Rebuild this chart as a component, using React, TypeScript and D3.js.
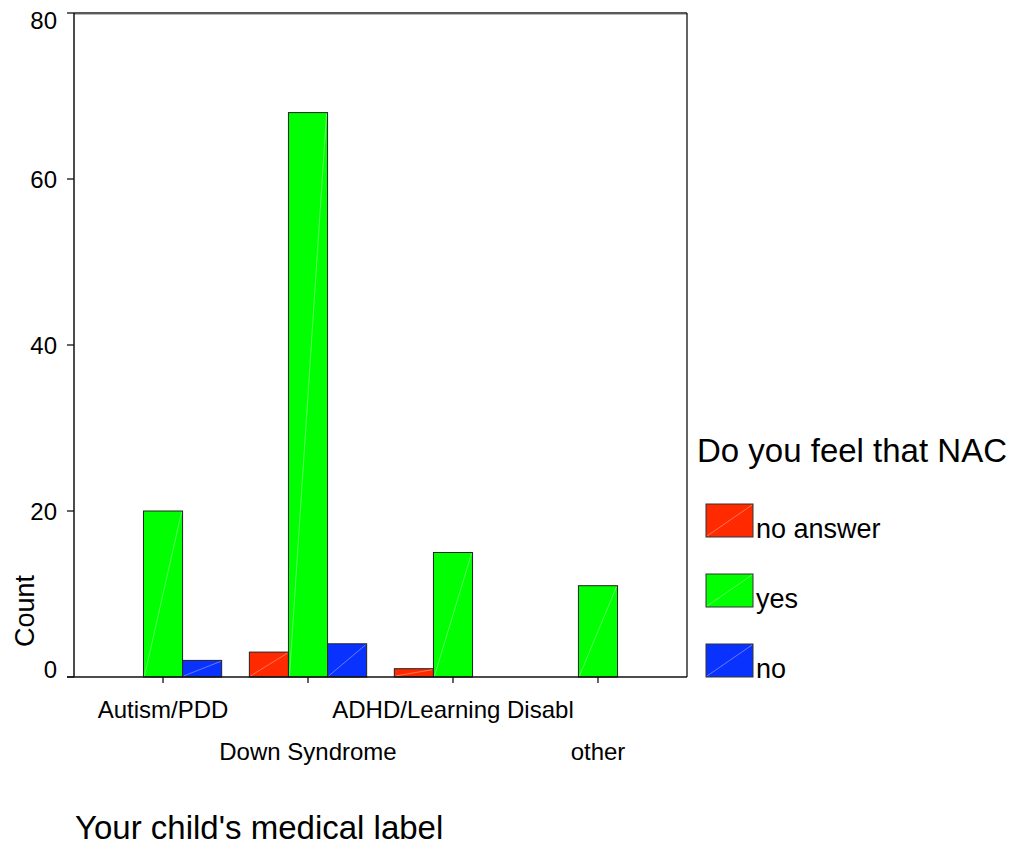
import React from "react";
import * as d3 from "d3";

const categories = ["Autism/PDD", "Down Syndrome", "ADHD/Learning Disabl", "other"];
const seriesNames = ["no answer", "yes", "no"];
const noAnswerValues = [0, 3, 1, 0];
const yesValues = [20, 68, 15, 11];
const noValues = [2, 4, 0, 0];
const seriesColors = ["#ff2a00", "#00ff00", "#0a32ff"];
const yTicks = [0, 20, 40, 60, 80];
const legendTitle = "Do you feel that NAC";
const xTitle = "Your child's medical label";
const yTitle = "Count";

const W = 1011;
const H = 846;
const left = 74;
const right = 687;
const top = 13;
const bottom = 677;
const FONT = "'Liberation Sans', Arial, sans-serif";

export default function App() {
  const seriesValues = [noAnswerValues, yesValues, noValues];
  const y = d3.scaleLinear().domain([0, 80]).range([bottom, top]);
  const x0 = d3.scaleBand<string>().domain(categories).range([left, right]).paddingInner(0).paddingOuter(0.114);
  const x1 = d3.scaleBand<string>().domain(seriesNames).range([0, x0.bandwidth()]).paddingInner(0).paddingOuter(0.354);

  const bars: React.ReactNode[] = [];
  categories.forEach((c, ci) => {
    seriesNames.forEach((s, si) => {
      const v = seriesValues[si][ci];
      if (!v) return;
      const bx = (x0(c) as number) + (x1(s) as number);
      const bw = x1.bandwidth();
      const by = y(v);
      const bh = y(0) - y(v);
      bars.push(
        <g key={c + s}>
          <rect x={bx} y={by} width={bw} height={bh} fill={seriesColors[si]} stroke="#222" strokeWidth={1} />
          <line x1={bx + 1} y1={by + bh - 1} x2={bx + bw - 1} y2={by + 1} stroke="#fff" strokeOpacity={0.45} strokeWidth={0.8} />
        </g>
      );
    });
  });

  return (
    <svg width={W} height={H} style={{ position: "absolute", left: 0, top: 0, background: "#fff" }} fontFamily={FONT}>
      {/* frame */}
      <line x1={left} y1={top + 1.5} x2={right} y2={top + 1.5} stroke="#bbb" strokeWidth={1} />
      <line x1={left} y1={top} x2={right} y2={top} stroke="#222" strokeWidth={1.3} />
      <line x1={right} y1={top} x2={right} y2={bottom} stroke="#111" strokeWidth={1.3} />
      {bars}
      <line x1={left} y1={top} x2={left} y2={bottom} stroke="#111" strokeWidth={1.5} />
      <line x1={left - 7} y1={bottom} x2={right} y2={bottom} stroke="#111" strokeWidth={1.5} />
      {/* y ticks */}
      {yTicks.map((t) => {
        const ty = y(t);
        const ly = Math.min(Math.max(ty, 20.5), 669);
        return (
          <g key={t}>
            <line x1={left - 7} y1={ty} x2={left} y2={ty} stroke="#111" strokeWidth={1.3} />
            <text x={57} y={ly} dy="0.36em" textAnchor="end" fontSize={24} fill="#000">{t}</text>
          </g>
        );
      })}
      {/* x ticks */}
      {categories.map((c, i) => {
        const cx = (x0(c) as number) + x0.bandwidth() / 2;
        return (
          <g key={c}>
            <line x1={cx} y1={bottom} x2={cx} y2={bottom + 6} stroke="#111" strokeWidth={1.3} />
            <text x={cx} y={i % 2 === 0 ? 718 : 760} textAnchor="middle" fontSize={24} fill="#000">{c}</text>
          </g>
        );
      })}
      <text x={75} y={839} fontSize={33} fill="#000">{xTitle}</text>
      <text transform="translate(34,611) rotate(-90)" textAnchor="middle" fontSize={27} fill="#000">{yTitle}</text>
      {/* legend */}
      <text x={697} y={462} fontSize={33} fill="#000">{legendTitle}</text>
      {seriesNames.map((s, i) => {
        const ly = 504 + i * 70;
        return (
          <g key={s}>
            <rect x={706} y={ly} width={47} height={33} fill={seriesColors[i]} stroke="#333" strokeWidth={1} />
            <line x1={707} y1={ly + 32} x2={752} y2={ly + 1} stroke="#fff" strokeOpacity={0.45} strokeWidth={0.8} />
            <text x={756} y={ly + 34} fontSize={27} fill="#000">{s}</text>
          </g>
        );
      })}
    </svg>
  );
}
